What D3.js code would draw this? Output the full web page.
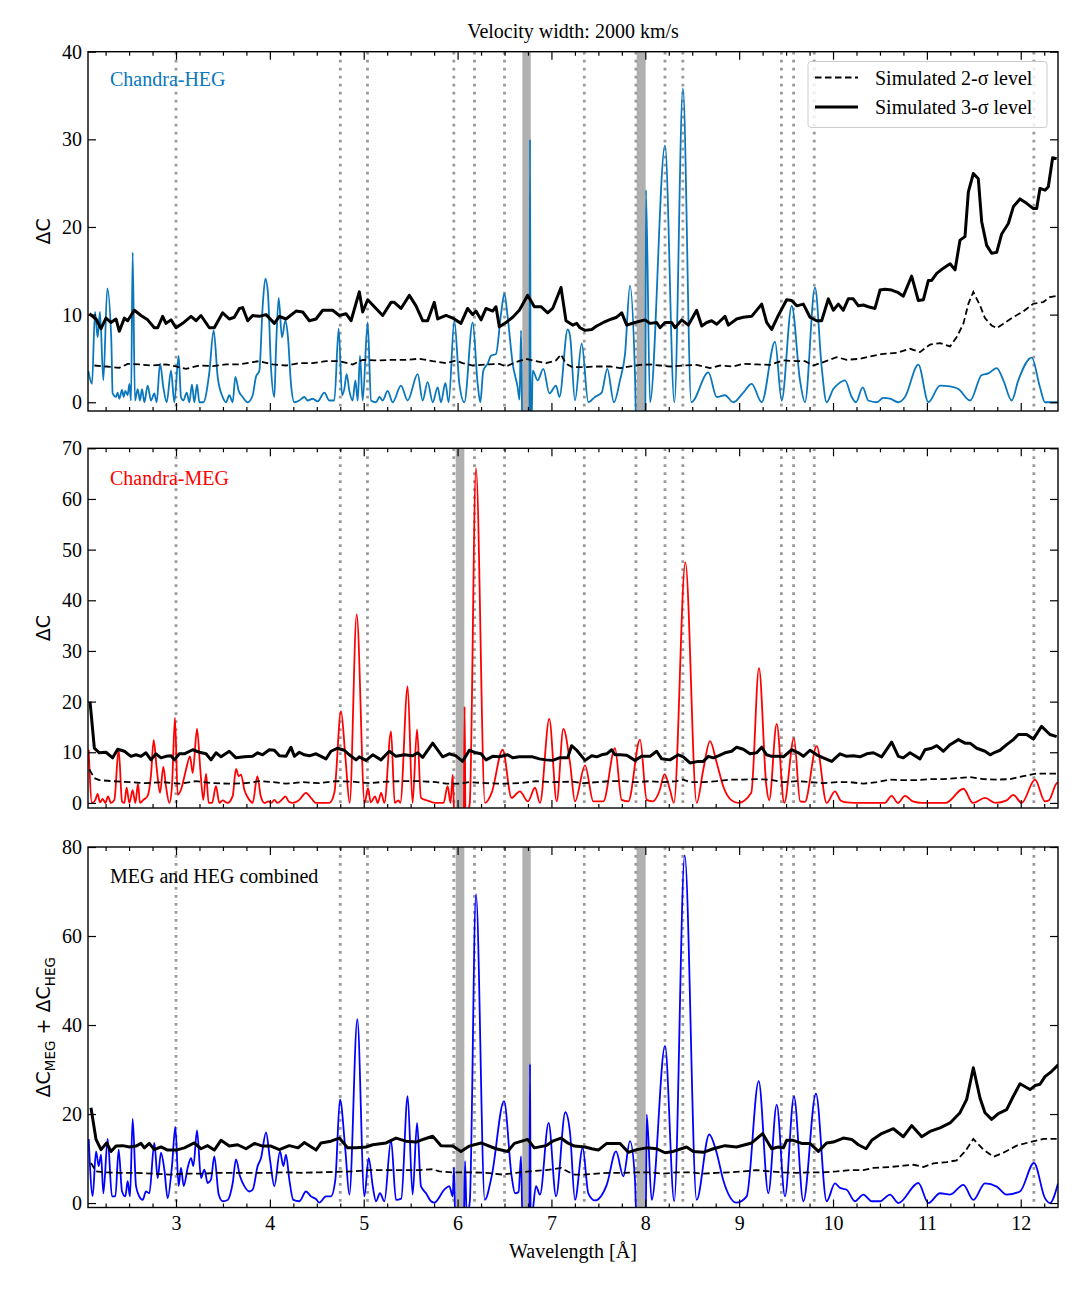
<!DOCTYPE html>
<html>
<head>
<meta charset="utf-8">
<script src="https://cdn.jsdelivr.net/npm/d3@7"></script>
<style>
body { margin: 0; background: #fff; }
text { font-family: "Liberation Serif", "Times New Roman", serif; }
</style>
</head>
<body>
<svg id="chart"></svg>
<script>
// ---- data: [wavelength (A), delta C] ----
var hegDelta = [[2.065,3.6],[2.105,2.1],[2.137,10.3],[2.165,7.4],[2.19,10.3],[2.226,2.5],[2.268,13.0],[2.311,7.0],[2.325,1.0],[2.361,0.6],[2.378,1.1],[2.396,0.4],[2.425,1.4],[2.442,0.6],[2.46,1.3],[2.485,0.8],[2.503,2.1],[2.521,0.2],[2.538,17.1],[2.563,0.2],[2.592,1.5],[2.616,0.2],[2.638,1.5],[2.663,0],[2.698,1.9],[2.734,0.2],[2.769,1.0],[2.794,0],[2.83,4.4],[2.865,1.7],[2.901,0],[2.947,3.6],[2.982,0],[3.028,5.3],[3.053,0.6],[3.078,0.2],[3.114,1.1],[3.142,0],[3.17,2.0],[3.195,0],[3.224,2.0],[3.249,0],[3.291,0],[3.355,3.4],[3.401,8.2],[3.444,2.9],[3.497,0.6],[3.533,0],[3.568,0.8],[3.604,0],[3.632,2.9],[3.668,1.3],[3.71,0.6],[3.764,0],[3.817,0.8],[3.852,2.9],[3.888,3.6],[3.923,10.9],[3.952,14.1],[3.98,12.4],[4.012,4.0],[4.048,0.6],[4.065,5.9],[4.094,11.9],[4.129,7.4],[4.165,9.3],[4.193,7.4],[4.225,2.1],[4.261,0],[4.314,0.2],[4.367,0.6],[4.403,0.2],[4.456,0.4],[4.509,0.1],[4.58,1.1],[4.634,0.2],[4.687,0.2],[4.733,8.4],[4.769,0.8],[4.793,1.5],[4.818,3.2],[4.847,1.3],[4.882,0.2],[4.911,2.5],[4.936,0.2],[4.96,5.3],[4.989,0.2],[5.042,9.1],[5.078,0.2],[5.131,0],[5.167,0.6],[5.202,0.2],[5.255,1.3],[5.308,0],[5.397,1.9],[5.468,0.2],[5.575,3.2],[5.628,0.2],[5.681,2.3],[5.735,0],[5.788,1.7],[5.823,0],[5.87,2.2],[5.905,0],[5.965,9.3],[6.019,2.1],[6.072,0],[6.161,9.1],[6.214,2.1],[6.242,0],[6.274,3.6],[6.321,4.4],[6.356,5.3],[6.409,5.5],[6.463,10.1],[6.498,12.4],[6.534,9.7],[6.587,4.4],[6.64,1.7],[6.66,0.3],[6.676,8.2],[6.692,-5],[6.765,-5],[6.772,30.0],[6.779,-5],[6.79,-2],[6.8,3.6],[6.853,2.5],[6.914,3.8],[6.978,1.0],[7.049,1.9],[7.085,0.6],[7.173,8.3],[7.198,7.6],[7.251,0.2],[7.322,6.7],[7.393,0],[7.464,0.6],[7.535,1.1],[7.595,3.8],[7.666,0],[7.73,2.5],[7.784,5.5],[7.837,13.3],[7.89,3.2],[7.91,-5],[8.0,-5],[8.007,24.2],[8.05,0],[8.21,29.3],[8.31,0],[8.401,35.8],[8.49,0],[8.672,3.4],[8.761,0.6],[8.849,0.8],[8.938,0],[9.044,1.1],[9.133,2.1],[9.24,0],[9.382,6.9],[9.453,0.2],[9.56,11.0],[9.648,2.5],[9.701,0],[9.808,13.1],[9.879,4.0],[9.932,0],[10.003,1.5],[10.057,2.1],[10.128,2.5],[10.199,0.6],[10.245,0],[10.316,1.7],[10.376,0.2],[10.465,0],[10.536,0.5],[10.607,0.4],[10.696,0],[10.767,0.6],[10.909,4.3],[11.016,0],[11.14,1.9],[11.247,1.8],[11.336,1.5],[11.46,0.2],[11.584,3.1],[11.655,3.3],[11.744,3.9],[11.815,2.5],[11.904,0.2],[11.974,2.5],[12.117,5.1],[12.205,1.7],[12.258,0],[12.311,0],[12.397,0]];

var heg2sigma = [[2.13,4.19],[2.254,4.08],[2.396,3.93],[2.485,4.38],[2.609,4.31],[2.751,4.19],[2.893,4.31],[3.0,4.08],[3.107,3.81],[3.249,4.19],[3.391,4.12],[3.533,4.31],[3.675,4.31],[3.817,4.58],[3.888,4.69],[4.03,4.31],[4.172,4.19],[4.314,4.46],[4.456,4.46],[4.598,4.69],[4.74,4.69],[4.882,4.31],[4.989,4.84],[5.131,4.77],[5.308,4.84],[5.45,4.84],[5.593,4.96],[5.735,4.69],[5.877,4.46],[5.983,4.77],[6.054,4.46],[6.161,4.19],[6.303,4.31],[6.445,4.38],[6.516,4.08],[6.622,4.58],[6.729,4.96],[6.8,4.77],[6.942,4.46],[7.049,4.77],[7.102,5.45],[7.155,4.38],[7.226,4.0],[7.34,4.0],[7.482,4.08],[7.624,4.08],[7.731,3.89],[7.837,4.08],[7.944,4.27],[8.05,4.31],[8.157,4.19],[8.263,4.08],[8.405,4.19],[8.547,4.27],[8.689,3.89],[8.796,4.19],[8.938,4.08],[9.044,4.38],[9.186,4.31],[9.328,4.27],[9.471,4.77],[9.613,4.69],[9.701,4.69],[9.79,4.19],[9.897,4.58],[10.039,5.15],[10.146,4.84],[10.288,4.96],[10.394,5.22],[10.536,5.53],[10.678,5.64],[10.82,6.10],[10.927,5.72],[11.033,6.59],[11.14,6.75],[11.247,6.37],[11.318,7.43],[11.389,8.96],[11.442,11.24],[11.495,12.58],[11.566,11.05],[11.619,9.6],[11.69,8.76],[11.744,8.46],[11.815,8.96],[11.921,9.72],[12.028,10.36],[12.134,11.24],[12.24,11.43],[12.311,12.0],[12.383,12.12]];

var heg3sigma = [[2.077,10.1],[2.148,9.5],[2.201,8.4],[2.254,9.6],[2.307,9.1],[2.361,9.5],[2.396,8.1],[2.45,9.6],[2.485,9.3],[2.556,10.5],[2.627,9.9],[2.698,9.4],[2.769,8.5],[2.805,8.5],[2.858,9.8],[2.893,9.0],[2.947,9.4],[3.0,8.5],[3.071,9.0],[3.16,9.8],[3.213,9.3],[3.266,9.9],[3.355,8.5],[3.408,8.5],[3.497,10.2],[3.568,9.5],[3.621,9.7],[3.675,10.7],[3.71,10.8],[3.764,9.3],[3.817,9.9],[3.888,9.8],[3.959,10.0],[4.048,9.0],[4.101,9.8],[4.172,9.5],[4.279,10.4],[4.35,10.3],[4.421,9.3],[4.492,9.5],[4.563,10.5],[4.669,10.5],[4.74,9.9],[4.811,10.1],[4.865,9.3],[4.953,12.6],[4.989,10.3],[5.042,11.7],[5.131,10.7],[5.202,9.9],[5.291,11.4],[5.326,11.4],[5.397,10.7],[5.486,12.2],[5.557,11.0],[5.628,9.3],[5.681,9.3],[5.752,11.4],[5.788,9.5],[5.877,9.9],[5.948,9.6],[6.036,9.0],[6.107,10.7],[6.161,10.0],[6.196,10.4],[6.25,9.4],[6.303,10.7],[6.374,10.4],[6.409,10.9],[6.445,8.6],[6.516,9.1],[6.587,9.7],[6.658,10.5],[6.747,12.2],[6.818,10.9],[6.889,10.9],[6.96,10.2],[7.013,10.7],[7.102,13.1],[7.155,9.3],[7.226,8.8],[7.269,9.0],[7.304,8.5],[7.358,8.2],[7.429,8.3],[7.482,8.7],[7.553,9.1],[7.642,9.5],[7.695,9.7],[7.749,10.2],[7.802,8.8],[7.89,9.1],[7.997,9.4],[8.05,9.0],[8.121,9.1],[8.157,8.5],[8.21,9.1],[8.281,9.1],[8.317,8.5],[8.388,9.4],[8.459,8.8],[8.547,10.5],[8.601,8.7],[8.654,9.1],[8.707,9.3],[8.761,8.9],[8.849,9.8],[8.885,8.8],[8.973,9.5],[9.044,9.7],[9.133,9.8],[9.24,11.2],[9.293,9.1],[9.346,8.3],[9.417,9.9],[9.506,11.7],[9.56,11.6],[9.613,11.0],[9.684,11.2],[9.755,9.7],[9.826,9.3],[9.879,9.3],[9.95,11.8],[10.003,10.5],[10.057,11.2],[10.11,10.5],[10.163,11.8],[10.216,11.8],[10.27,11.0],[10.323,11.1],[10.376,10.9],[10.447,10.7],[10.501,12.8],[10.554,12.9],[10.625,12.8],[10.696,12.5],[10.749,12.1],[10.838,14.4],[10.909,11.6],[10.963,11.7],[11.016,13.9],[11.051,13.9],[11.105,14.7],[11.176,15.3],[11.247,15.8],[11.3,15.1],[11.353,18.5],[11.406,18.9],[11.442,24.0],[11.495,26.1],[11.548,25.5],[11.584,20.6],[11.637,17.9],[11.69,17.0],[11.744,17.1],[11.797,19.2],[11.868,20.4],[11.921,22.3],[11.992,23.2],[12.063,22.7],[12.134,22.1],[12.17,22.1],[12.205,24.4],[12.259,24.2],[12.294,24.6],[12.34,27.9],[12.383,27.8]];

var megDelta = [[2.07,10.5],[2.105,0],[2.141,0.6],[2.165,1.8],[2.19,0.1],[2.219,0.8],[2.247,0],[2.276,1.3],[2.307,0],[2.343,0.6],[2.389,10.6],[2.425,0.3],[2.45,0],[2.474,3.0],[2.503,0],[2.538,2.5],[2.567,0],[2.595,3.8],[2.616,0],[2.652,0.6],[2.698,1.4],[2.734,5.6],[2.762,12.4],[2.794,6.9],[2.83,2.0],[2.865,7.1],[2.893,3.3],[2.929,0],[2.957,3.3],[2.989,16.8],[3.018,1.6],[3.053,2.6],[3.107,6.6],[3.149,9.2],[3.178,5.9],[3.224,14.6],[3.259,6.6],[3.291,0.6],[3.32,5.8],[3.348,0],[3.384,0],[3.426,3.3],[3.462,0],[3.497,0.5],[3.55,0],[3.604,1.4],[3.639,6.7],[3.668,5.3],[3.693,5.6],[3.728,2.6],[3.781,0.6],[3.817,0],[3.867,5.3],[3.902,1.4],[3.941,0],[3.987,0.3],[4.012,0],[4.048,0.6],[4.083,0],[4.136,0.8],[4.165,1.3],[4.2,0.3],[4.243,0],[4.314,0.6],[4.385,2.0],[4.438,1.0],[4.492,0],[4.634,0],[4.687,2.0],[4.758,18.1],[4.805,9],[4.85,0],[4.925,37.2],[5.01,0],[5.045,2.9],[5.075,0.1],[5.12,1.3],[5.15,0],[5.185,2.0],[5.22,0],[5.291,14.1],[5.33,0],[5.37,0.5],[5.39,0],[5.468,23.0],[5.52,0],[5.568,14.5],[5.61,1.0],[5.67,0.5],[5.72,0.2],[5.78,0],[5.85,0],[5.894,3.3],[5.925,0],[5.948,5.6],[5.97,-5],[6.065,-5],[6.075,19.0],[6.085,-5],[6.11,-2],[6.13,0],[6.196,66.1],[6.292,0],[6.363,2.0],[6.48,10.5],[6.575,1.0],[6.663,2.3],[6.75,0.3],[6.825,3.0],[6.878,0],[6.977,16.6],[7.056,0.3],[7.127,14.6],[7.198,7.9],[7.251,0.3],[7.358,7.4],[7.446,0.3],[7.553,0.3],[7.677,10.8],[7.748,0.6],[7.819,0.3],[7.944,12.5],[8.015,0.6],[8.08,0.3],[8.15,2.3],[8.205,5.7],[8.263,2.6],[8.305,0],[8.427,47.5],[8.547,0],[8.618,6.6],[8.689,12.2],[8.76,8],[8.83,3.3],[8.92,0.5],[8.991,0],[9.129,2.0],[9.211,26.6],[9.29,3.3],[9.32,0.5],[9.40,15.6],[9.48,0],[9.584,12.8],[9.65,0.3],[9.70,0.2],[9.826,11.2],[9.932,0],[10.021,2.3],[10.08,0.5],[10.146,0.1],[10.3,0],[10.55,0],[10.625,1.4],[10.69,0],[10.767,1.4],[10.85,0.3],[10.95,0],[11.2,0],[11.39,2.8],[11.49,0],[11.62,1.0],[11.73,0],[11.85,0.5],[11.92,1.6],[12.01,0],[12.152,4.6],[12.258,0.3],[12.3,0.5],[12.383,3.9],[12.397,4.0]];

var meg2sigma = [[2.077,6.6],[2.13,4.9],[2.183,4.5],[2.325,4.3],[2.503,4.1],[2.68,3.9],[2.858,4.1],[3.036,3.8],[3.213,4.3],[3.391,3.9],[3.568,3.8],[3.746,3.9],[3.888,4.3],[4.03,4.1],[4.172,3.8],[4.35,4.1],[4.527,3.9],[4.705,4.3],[4.882,4.2],[5.06,3.9],[5.237,4.2],[5.415,4.3],[5.593,4.3],[5.77,4.1],[5.877,3.8],[6.019,3.8],[6.125,4.1],[6.303,3.9],[6.48,3.8],[6.658,3.9],[6.835,4.3],[7.013,4.1],[7.226,4.2],[7.34,3.9],[7.482,4.1],[7.624,4.3],[7.766,4.3],[7.908,4.1],[8.05,4.3],[8.192,4.1],[8.334,4.3],[8.405,4.6],[8.476,4.1],[8.618,4.1],[8.76,4.3],[8.902,4.6],[9.044,4.6],[9.186,4.7],[9.328,4.6],[9.471,4.1],[9.613,4.3],[9.755,4.1],[9.897,3.9],[10.039,4.1],[10.181,4.1],[10.323,3.8],[10.465,4.1],[10.607,4.6],[10.749,4.5],[10.891,4.5],[11.033,4.7],[11.176,4.7],[11.318,4.9],[11.46,5.1],[11.602,4.7],[11.744,4.6],[11.886,4.7],[12.028,5.3],[12.17,5.8],[12.311,5.8],[12.383,5.8]];

var meg3sigma = [[2.084,20.0],[2.13,10.8],[2.183,9.9],[2.254,10.0],[2.325,8.9],[2.379,10.6],[2.45,10.2],[2.52,9.2],[2.574,9.5],[2.627,9.2],[2.68,9.9],[2.734,8.5],[2.787,9.7],[2.84,8.9],[2.893,9.2],[2.947,9.3],[2.982,8.5],[3.036,9.7],[3.089,9.7],[3.178,10.5],[3.249,10.0],[3.32,9.7],[3.373,8.5],[3.426,9.9],[3.48,9.1],[3.568,10.2],[3.639,8.9],[3.728,9.1],[3.817,9.2],[3.87,9.9],[3.923,9.5],[3.994,10.5],[4.048,10.4],[4.101,9.3],[4.172,9.2],[4.225,11.0],[4.261,9.2],[4.314,10.0],[4.367,9.5],[4.42,9.3],[4.492,9.7],[4.545,9.2],[4.598,8.7],[4.651,10.2],[4.722,10.8],[4.793,10.4],[4.847,9.5],[4.918,8.5],[4.953,9.1],[5.024,8.4],[5.096,9.5],[5.184,8.5],[5.273,10.2],[5.344,9.2],[5.433,9.5],[5.522,9.3],[5.575,9.9],[5.628,9.0],[5.735,11.8],[5.841,9.1],[5.912,9.7],[5.983,9.3],[6.054,8.2],[6.125,10.4],[6.196,9.9],[6.25,9.7],[6.303,8.5],[6.374,9.2],[6.445,9.1],[6.534,9.5],[6.587,8.9],[6.658,9.1],[6.729,9.1],[6.8,9.1],[6.871,8.7],[6.942,8.5],[7.013,8.4],[7.085,8.9],[7.173,8.9],[7.215,11.3],[7.269,10.4],[7.358,8.4],[7.429,9.3],[7.482,9.1],[7.535,9.5],[7.589,9.7],[7.642,10.5],[7.677,9.5],[7.731,9.5],[7.802,9.4],[7.89,8.4],[7.961,9.2],[8.05,9.2],[8.121,10.2],[8.174,8.7],[8.263,8.5],[8.352,9.5],[8.405,9.1],[8.476,7.9],[8.565,8.2],[8.618,8.2],[8.672,9.2],[8.725,8.9],[8.778,9.3],[8.849,9.9],[8.92,10.2],[8.973,11.0],[9.044,10.6],[9.115,9.7],[9.186,9.9],[9.24,11.0],[9.293,9.5],[9.346,9.2],[9.417,9.2],[9.471,9.1],[9.56,10.5],[9.631,9.9],[9.684,9.2],[9.755,10.4],[9.826,9.5],[9.897,8.9],[9.986,8.2],[10.074,9.7],[10.145,9.2],[10.216,9.3],[10.288,9.1],[10.359,9.7],[10.43,9.9],[10.518,9.1],[10.625,12.0],[10.696,9.2],[10.749,8.9],[10.82,9.9],[10.927,8.7],[10.98,10.5],[11.051,10.8],[11.105,11.3],[11.176,10.2],[11.247,11.5],[11.336,12.5],[11.407,11.8],[11.46,11.8],[11.531,10.8],[11.62,10.2],[11.673,9.5],[11.726,10.0],[11.779,10.4],[11.85,11.5],[11.921,12.5],[11.974,13.5],[12.063,13.5],[12.134,12.6],[12.222,15.1],[12.311,13.5],[12.383,13.1]];

var combDelta = [[2.07,14.4],[2.112,1.6],[2.148,11.6],[2.176,8.3],[2.201,10.9],[2.226,2.2],[2.272,14.4],[2.318,1.5],[2.354,1.5],[2.389,12.0],[2.425,2.6],[2.46,1.5],[2.485,4.9],[2.51,1.5],[2.538,18.9],[2.574,3.8],[2.609,1.5],[2.645,0.7],[2.68,2.6],[2.716,2.2],[2.769,13.5],[2.805,5.6],[2.84,11.3],[2.876,7.5],[2.911,1.1],[2.957,8.3],[2.993,17.1],[3.028,3.8],[3.053,7.9],[3.082,3.8],[3.124,7.9],[3.16,10.1],[3.185,8.3],[3.224,16.3],[3.266,5.6],[3.302,7.5],[3.337,4.5],[3.373,5.3],[3.408,10.5],[3.455,1.9],[3.497,0.4],[3.55,0.7],[3.604,4.5],[3.639,9.8],[3.682,6.0],[3.728,3.8],[3.781,2.6],[3.817,3.0],[3.87,8.3],[3.906,10.1],[3.959,15.9],[4.001,9.8],[4.048,3.8],[4.108,11.6],[4.144,8.3],[4.172,10.9],[4.207,5.3],[4.25,0.7],[4.314,0.4],[4.385,2.6],[4.438,1.5],[4.492,0.9],[4.527,0.1],[4.598,1.5],[4.651,1.5],[4.698,5.3],[4.747,23.3],[4.804,12.0],[4.847,1.9],[4.932,41.3],[5.007,1.5],[5.053,10.1],[5.096,3.8],[5.131,0.4],[5.173,2.2],[5.22,0.4],[5.291,14.2],[5.344,0.7],[5.40,1.0],[5.468,24.0],[5.521,1.9],[5.568,18.0],[5.61,3.8],[5.664,2.2],[5.717,0.4],[5.752,0.1],[5.859,3.0],[5.912,3.8],[5.948,1.5],[5.962,8],[5.976,-5],[6.065,-5],[6.08,9.4],[6.097,-3],[6.13,0.3],[6.196,69.4],[6.29,0.7],[6.363,6.0],[6.495,22.9],[6.576,6.0],[6.612,2.2],[6.65,2.5],[6.676,10.5],[6.692,-5],[6.765,-5],[6.772,31.2],[6.779,-5],[6.8,-2],[6.835,3.8],[6.878,1.9],[6.97,18.0],[7.049,1.5],[7.148,20.4],[7.198,15.8],[7.251,0.7],[7.333,12.4],[7.393,2.2],[7.464,0.6],[7.589,4.1],[7.688,11.6],[7.766,6.0],[7.837,13.9],[7.89,5.3],[7.908,-5],[8.005,-5],[8.015,19.9],[8.068,0.7],[8.21,35.3],[8.308,0.4],[8.42,78.1],[8.547,0.7],[8.681,15.4],[8.76,11.3],[8.83,5.2],[8.973,0.1],[9.08,1.5],[9.208,27.4],[9.311,2.2],[9.40,22.1],[9.488,1.5],[9.584,23.9],[9.684,0.4],[9.818,24.6],[9.932,0.4],[10.021,4.4],[10.074,3.4],[10.145,3.0],[10.234,0.4],[10.323,1.9],[10.412,0.4],[10.501,0.4],[10.607,1.9],[10.696,0],[10.909,4.5],[11.016,0],[11.14,2.2],[11.247,1.9],[11.389,4.1],[11.495,0.7],[11.619,4.4],[11.744,3.7],[11.85,1.9],[11.992,2.6],[12.141,9.0],[12.258,1.1],[12.311,0],[12.397,4.4]];

var comb2sigma = [[2.094,9.0],[2.148,7.1],[2.254,6.9],[2.396,6.8],[2.574,6.8],[2.751,6.6],[2.929,6.4],[3.107,6.6],[3.284,6.6],[3.462,6.8],[3.639,6.8],[3.817,6.8],[3.994,6.8],[4.172,6.9],[4.35,6.8],[4.527,6.9],[4.705,7.0],[4.882,7.1],[5.06,7.4],[5.237,7.4],[5.415,7.4],[5.593,7.4],[5.735,7.6],[5.806,7.1],[5.948,6.9],[6.125,6.9],[6.303,6.8],[6.48,6.4],[6.622,6.8],[6.764,7.1],[6.942,7.4],[7.102,7.9],[7.173,7.1],[7.244,6.4],[7.34,6.4],[7.482,6.6],[7.624,6.8],[7.766,6.8],[7.908,6.9],[8.05,6.9],[8.192,6.6],[8.334,6.9],[8.476,6.9],[8.618,6.6],[8.76,6.8],[8.902,6.9],[9.044,7.1],[9.186,7.4],[9.328,7.1],[9.471,6.9],[9.613,6.8],[9.755,6.9],[9.897,6.9],[10.039,7.1],[10.181,7.4],[10.323,7.4],[10.43,7.9],[10.607,8.1],[10.749,8.4],[10.856,8.6],[10.963,8.1],[11.069,8.9],[11.211,9.2],[11.318,9.6],[11.407,11.6],[11.495,14.4],[11.602,12.0],[11.708,10.4],[11.815,11.3],[11.957,12.9],[12.099,13.7],[12.241,14.4],[12.383,14.4]];

var comb3sigma = [[2.094,21.4],[2.148,14.3],[2.201,12.0],[2.261,13.5],[2.307,11.6],[2.361,12.8],[2.432,12.9],[2.503,12.6],[2.574,12.8],[2.627,13.4],[2.663,12.4],[2.716,13.4],[2.769,12.0],[2.84,12.6],[2.911,11.9],[3.0,11.9],[3.089,12.4],[3.195,13.5],[3.266,12.2],[3.337,12.9],[3.408,11.9],[3.479,14.1],[3.568,12.8],[3.657,13.1],[3.746,12.2],[3.835,13.4],[3.923,12.8],[4.012,12.8],[4.101,12.0],[4.207,12.9],[4.3,12.4],[4.367,13.6],[4.492,11.9],[4.545,13.5],[4.651,13.9],[4.74,14.6],[4.829,12.4],[4.918,12.4],[5.024,12.6],[5.096,13.1],[5.238,13.5],[5.344,14.6],[5.45,13.9],[5.557,13.7],[5.646,14.4],[5.735,15.0],[5.824,12.9],[5.948,12.8],[6.036,11.6],[6.125,12.8],[6.25,13.5],[6.409,12.2],[6.534,11.6],[6.605,13.4],[6.747,14.3],[6.818,12.4],[6.942,12.9],[7.013,13.9],[7.102,14.6],[7.173,13.5],[7.244,12.8],[7.358,12.6],[7.429,12.2],[7.5,11.9],[7.589,13.4],[7.731,13.4],[7.819,11.4],[7.908,12.0],[8.015,12.4],[8.121,12.2],[8.21,11.3],[8.298,11.6],[8.44,12.6],[8.511,11.6],[8.618,11.4],[8.725,12.2],[8.849,12.9],[8.973,12.6],[9.133,13.5],[9.25,15.6],[9.346,12.2],[9.417,12.6],[9.471,12.4],[9.506,14.1],[9.577,14.1],[9.666,13.4],[9.755,13.4],[9.844,11.6],[9.932,13.5],[10.003,13.7],[10.11,14.6],[10.199,14.3],[10.27,13.1],[10.352,12.2],[10.412,14.1],[10.518,15.6],[10.643,16.7],[10.749,14.9],[10.838,17.4],[10.945,14.9],[11.033,16.1],[11.14,16.9],[11.247,18.0],[11.353,20.3],[11.424,23.3],[11.495,30.4],[11.566,23.6],[11.619,20.3],[11.69,18.8],[11.761,20.1],[11.85,21.0],[11.921,24.0],[11.992,26.8],[12.099,25.5],[12.152,26.4],[12.205,26.7],[12.258,28.4],[12.33,29.6],[12.401,31.1]];

// known line positions (dotted) and masked ranges (grey bands)
var lineWaves = [3.0, 4.75, 5.04, 5.96, 6.18, 6.50, 7.35, 7.90, 8.21, 8.40, 9.45, 9.58, 9.80, 12.14];
var hegBands = [[6.69, 6.78], [7.908, 8.004]];
var megBands = [[5.98, 6.072]];
var combBands = [[5.98, 6.072], [6.69, 6.78], [7.908, 8.004]];

var xTicks = [3, 4, 5, 6, 7, 8, 9, 10, 11, 12];

// ---- layout ----
var W = 1081, H = 1297;
var left = 88, right = 1058;
var svg = d3.select("#chart").attr("width", W).attr("height", H);

var x = d3.scaleLinear().domain([2.0624, 12.397]).range([left, right]);

var panels = [
  { top: 51.7, bottom: 411, yMax: 40, yStep: 10, curve: hegDelta, color: "#0a77bd",
    s2: heg2sigma, s3: heg3sigma, bands: hegBands, label: "Chandra-HEG", labelColor: "#0a77bd", labelY: 86 },
  { top: 448.3, bottom: 808, yMax: 70, yStep: 10, curve: megDelta, color: "#ff0000",
    s2: meg2sigma, s3: meg3sigma, bands: megBands, label: "Chandra-MEG", labelColor: "#ff0000", labelY: 485 },
  { top: 847, bottom: 1207.5, yMax: 80, yStep: 20, curve: combDelta, color: "#0000ff",
    s2: comb2sigma, s3: comb3sigma, bands: combBands, label: "MEG and HEG combined", labelColor: "#000", labelY: 883 }
];

var minorTicks = d3.range(2.25, 12.4, 0.25).filter(function(v) { return Math.abs(v - Math.round(v)) > 0.01; });

panels.forEach(function(p, i) {
  var y = d3.scaleLinear().domain([-1, p.yMax]).range([p.bottom, p.top]);
  var g = svg.append("g");

  g.append("clipPath").attr("id", "clip" + i)
    .append("rect").attr("x", left).attr("y", p.top)
    .attr("width", right - left).attr("height", p.bottom - p.top);

  var plot = g.append("g").attr("clip-path", "url(#clip" + i + ")");

  // grey masked bands
  plot.selectAll("rect.band").data(p.bands).enter().append("rect")
    .attr("class", "band")
    .attr("x", function(d) { return x(d[0]); })
    .attr("width", function(d) { return x(d[1]) - x(d[0]); })
    .attr("y", p.top).attr("height", p.bottom - p.top)
    .attr("fill", "#b0b0b0");

  // dotted line markers
  plot.selectAll("line.mark").data(lineWaves).enter().append("line")
    .attr("class", "mark")
    .attr("x1", function(d) { return x(d); }).attr("x2", function(d) { return x(d); })
    .attr("y1", p.top).attr("y2", p.bottom)
    .attr("stroke", "#999").attr("stroke-width", 2.8)
    .attr("stroke-dasharray", "2.8,5.2");

  var smooth = d3.line()
    .x(function(d) { return x(d[0]); })
    .y(function(d) { return y(d[1]); })
    .curve(d3.curveMonotoneX);
  var straight = d3.line()
    .x(function(d) { return x(d[0]); })
    .y(function(d) { return y(d[1]); });

  plot.append("path").datum(p.curve).attr("d", smooth)
    .attr("fill", "none").attr("stroke", p.color).attr("stroke-width", 1.8);

  plot.append("path").datum(p.s2).attr("d", straight)
    .attr("fill", "none").attr("stroke", "#000").attr("stroke-width", 1.8)
    .attr("stroke-dasharray", "6.5,3.5");

  plot.append("path").datum(p.s3).attr("d", straight)
    .attr("fill", "none").attr("stroke", "#000").attr("stroke-width", 3)
    .attr("stroke-linejoin", "round");

  // axes, ticks pointing inwards on all four sides
  var yTicks = d3.range(0, p.yMax + 0.1, p.yStep);
  var bottomAxis = d3.axisBottom(x).tickValues(xTicks).tickSize(-8).tickPadding(8)
    .tickFormat(i === 2 ? d3.format("d") : "");
  var axes = [
    g.append("g").attr("transform", "translate(0," + p.bottom + ")").call(bottomAxis),
    g.append("g").attr("transform", "translate(0," + p.bottom + ")")
      .call(d3.axisBottom(x).tickValues(minorTicks).tickSize(-4).tickFormat("")),
    g.append("g").attr("transform", "translate(0," + p.top + ")")
      .call(d3.axisTop(x).tickValues(xTicks).tickSize(-8).tickFormat("")),
    g.append("g").attr("transform", "translate(0," + p.top + ")")
      .call(d3.axisTop(x).tickValues(minorTicks).tickSize(-4).tickFormat("")),
    g.append("g").attr("transform", "translate(" + left + ",0)")
      .call(d3.axisLeft(y).tickValues(yTicks).tickSize(-8).tickPadding(6)),
    g.append("g").attr("transform", "translate(" + right + ",0)")
      .call(d3.axisRight(y).tickValues(yTicks).tickSize(-8).tickFormat(""))
  ];
  axes.forEach(function(a) {
    a.select(".domain").remove();
    a.selectAll(".tick line").attr("stroke", "#000").attr("stroke-width", 1.2);
    a.selectAll(".tick text").attr("fill", "#000")
      .style("font-family", "'Liberation Serif', 'Times New Roman', serif").style("font-size", "20px");
  });

  g.append("rect").attr("x", left).attr("y", p.top)
    .attr("width", right - left).attr("height", p.bottom - p.top)
    .attr("fill", "none").attr("stroke", "#000").attr("stroke-width", 1.4);

  g.append("text").attr("x", 110).attr("y", p.labelY)
    .attr("fill", p.labelColor).style("font-size", "20px").text(p.label);

  // y axis label
  var yl = g.append("text")
    .attr("transform", "translate(50," + ((p.top + p.bottom) / 2) + ") rotate(-90)")
    .attr("text-anchor", "middle")
    .style("font-family", "'DejaVu Sans', sans-serif").style("font-size", "19px");
  if (i < 2) {
    yl.text("\u0394C");
  } else {
    yl.append("tspan").text("\u0394C");
    yl.append("tspan").attr("dy", 5).style("font-size", "13.5px").text("MEG");
    yl.append("tspan").attr("dy", -5).text(" + \u0394C");
    yl.append("tspan").attr("dy", 5).style("font-size", "13.5px").text("HEG");
  }
});

// title and x label
svg.append("text").attr("x", (left + right) / 2).attr("y", 38)
  .attr("text-anchor", "middle").style("font-size", "20px")
  .text("Velocity width: 2000 km/s");
svg.append("text").attr("x", (left + right) / 2).attr("y", 1258)
  .attr("text-anchor", "middle").style("font-size", "20px")
  .text("Wavelength [\u00c5]");

// legend in the top panel
var leg = svg.append("g");
leg.append("rect").attr("x", 808).attr("y", 61.5).attr("width", 239).attr("height", 66)
  .attr("rx", 3).attr("fill", "#fff").attr("fill-opacity", 0.8)
  .attr("stroke", "#ccc").attr("stroke-width", 1);
var legendItems = [
  { text: "Simulated 2-\u03c3 level", dash: "6.5,3.5", width: 1.8, y: 77.5 },
  { text: "Simulated 3-\u03c3 level", dash: null, width: 3, y: 107 }
];
legendItems.forEach(function(it) {
  leg.append("line").attr("x1", 815).attr("x2", 858).attr("y1", it.y).attr("y2", it.y)
    .attr("stroke", "#000").attr("stroke-width", it.width)
    .attr("stroke-dasharray", it.dash);
  leg.append("text").attr("x", 875).attr("y", it.y + 7).style("font-size", "20px").text(it.text);
});
</script>
</body>
</html>
